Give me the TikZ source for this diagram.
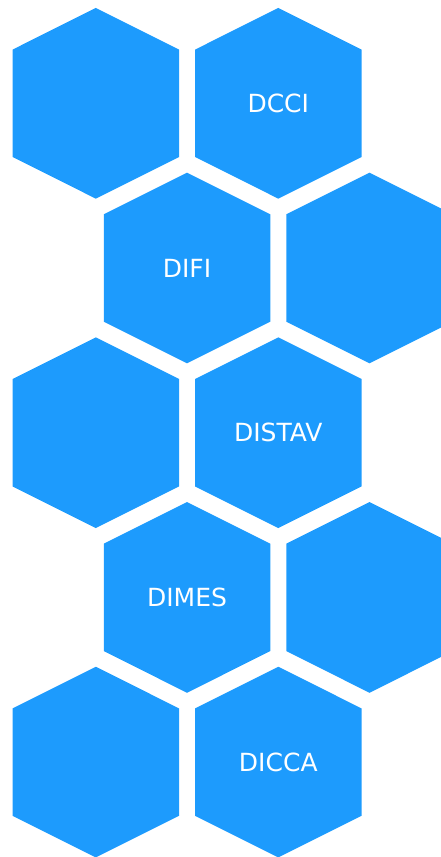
\documentclass[tikz,border=0pt]{standalone}
\usepackage{fontspec}
\setmainfont{DejaVu Sans}
\definecolor{hexblue}{HTML}{1D9BFD}
\begin{document}
\begin{tikzpicture}[x=1pt,y=-1pt,
  hexfill/.style={fill=hexblue,draw=none},
  hexlabel/.style={text=white,font=\fontsize{25}{30}\selectfont,inner sep=0pt,anchor=center}]
\useasboundingbox (0,0) rectangle (440,857);
\foreach \cx/\cy in {95.8/103.3, 278.3/103.3,
                     187.0/268.0, 369.5/268.0,
                     95.8/432.7, 278.3/432.7,
                     187.0/597.4, 369.5/597.4,
                     95.8/762.1, 278.3/762.1} {
  \fill[hexfill] (\cx,\cy) +(0,-95.35) -- +(83.25,-53.7) -- +(83.25,53.7)
    -- +(0,95.35) -- +(-83.25,53.7) -- +(-83.25,-53.7) -- cycle;
}
\node[hexlabel] (dcci) at (278.3,103.3) {DCCI};
\node[hexlabel] (difi) at (187.0,268.0) {DIFI};
\node[hexlabel] (distav) at (278.3,432.7) {DISTAV};
\node[hexlabel] (dimes) at (187.0,597.4) {DIMES};
\node[hexlabel] (dicca) at (278.3,762.1) {DICCA};
\end{tikzpicture}
\end{document}
